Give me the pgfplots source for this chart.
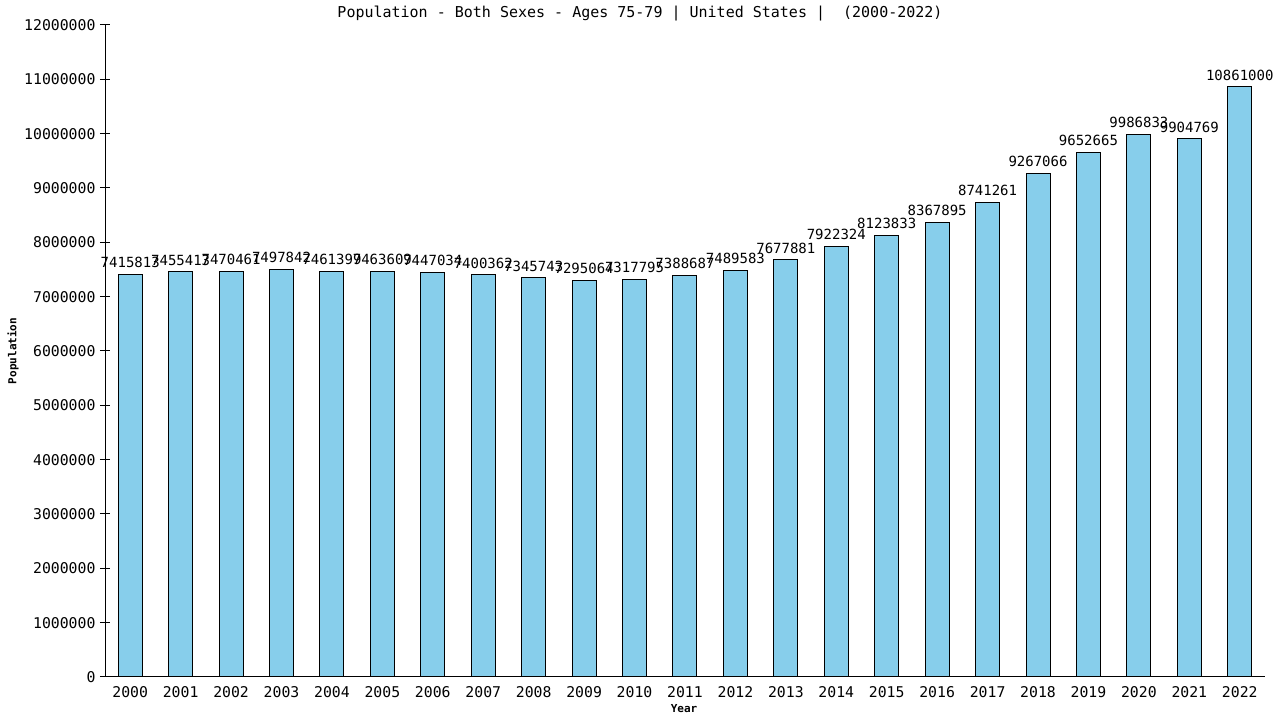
\documentclass[border=0pt]{standalone}
\usepackage{pgfplots}
\pgfplotsset{compat=1.18}
\usepackage{pgfplotstable}
\usepackage{fontspec}
\setmainfont{DejaVu Sans Mono}
\definecolor{barblue}{RGB}{135,206,235}

\pgfplotstableread{
x year y
0 2000 7415813
1 2001 7455413
2 2002 7470461
3 2003 7497842
4 2004 7461399
5 2005 7463609
6 2006 7447034
7 2007 7400362
8 2008 7345743
9 2009 7295064
10 2010 7317795
11 2011 7388687
12 2012 7489583
13 2013 7677881
14 2014 7922324
15 2015 8123833
16 2016 8367895
17 2017 8741261
18 2018 9267066
19 2019 9652665
20 2020 9986833
21 2021 9904769
22 2022 10861000
}\pop

\begin{document}
\begin{tikzpicture}[x=1pt,y=1pt]
\useasboundingbox (0,0) rectangle (1280,720);
\begin{axis}[
    at={(105pt,43pt)}, anchor=south west,
    scale only axis, width=1160pt, height=652pt,
    xmin=-0.5, xmax=22.5, ymin=0, ymax=12000000,
    axis lines=left, axis line style={-, line width=1pt},
    xtick=data,
    xticklabels={2000,2001,2002,2003,2004,2005,2006,2007,2008,2009,2010,2011,2012,2013,2014,2015,2016,2017,2018,2019,2020,2021,2022},
    ytick={0,1000000,2000000,3000000,4000000,5000000,6000000,7000000,8000000,9000000,10000000,11000000,12000000},
    scaled y ticks=false,
    /pgf/number format/assume math mode=true,
    yticklabel style={/pgf/number format/fixed, /pgf/number format/1000 sep={}},
    tick label style={font=\fontsize{14.8}{16}\selectfont},
    major x tick style={draw=none},
    major y tick style={line width=1pt, draw=black},
    major tick length=10pt, tick align=center,
    xticklabel style={yshift=4pt},
    yticklabel style={xshift=-1pt},
    ybar, bar width=24pt,
    nodes near coords={\pgfplotspointmeta},
    point meta=explicit symbolic,
    every node near coord/.append style={font=\fontsize{14}{16}\selectfont, black, inner sep=2pt, yshift=4pt},
    clip=false,
]
\addplot[fill=barblue, draw=black, line width=1pt] table[x=x, y=y, meta=y] {\pop};
\end{axis}
\node at (640,706) {\fontsize{15}{17}\selectfont Population - Both Sexes - Ages 75-79 | United States |~ (2000-2022)};
\node[rotate=90] at (13,369) {\fontsize{11}{13}\selectfont\bfseries Population};
\node at (684,11) {\fontsize{11}{13}\selectfont\bfseries Year};
\end{tikzpicture}
\end{document}
